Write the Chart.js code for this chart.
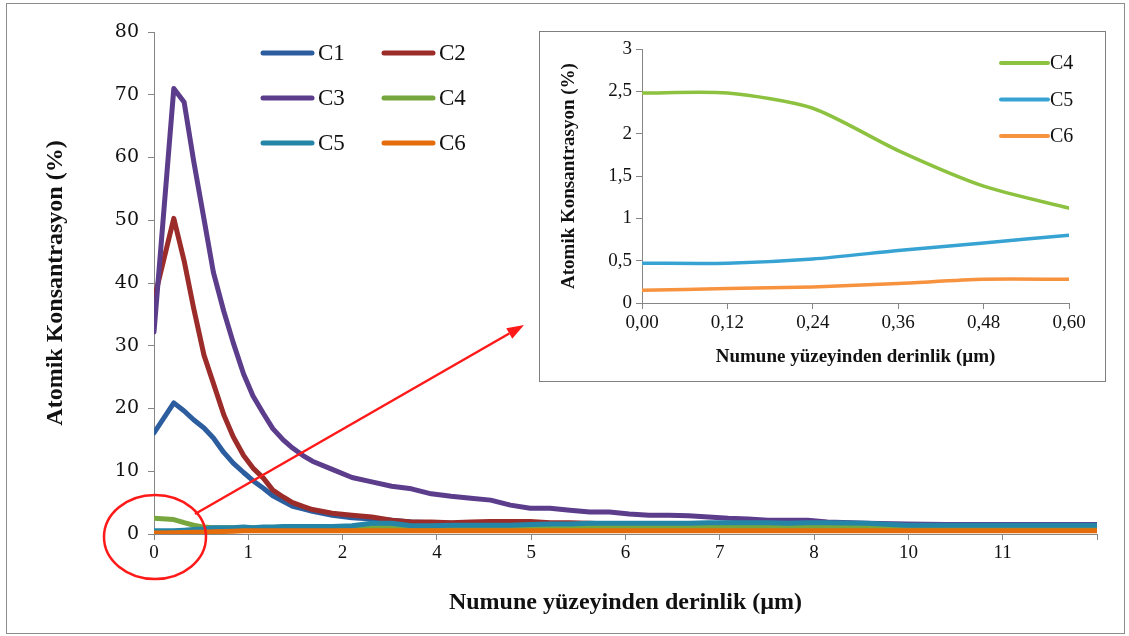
<!DOCTYPE html>
<html>
<head>
<meta charset="utf-8">
<script src="https://cdn.jsdelivr.net/npm/chart.js@4.4.1/dist/chart.umd.min.js"></script>
<style>
  html, body { margin: 0; padding: 0; background: #fff; }
  #wrap { position: relative; width: 1129px; height: 636px; }
  #frame { position: absolute; left: 6px; top: 3px; width: 1117px; height: 629px; border: 1px solid #8c8c8c; }
  #main { position: absolute; left: 0; top: 0; }
  #insetBox { position: absolute; left: 539px; top: 31px; width: 565px; height: 349px; border: 1px solid #7f7f7f; background: #fff; }
</style>
</head>
<body>
<div id="wrap">
  <div id="frame"></div>
  <canvas id="main" width="1129" height="636"></canvas>
  <div id="insetBox"><canvas id="inset" width="565" height="349"></canvas></div>
</div>
<script>
// main chart: position along the depth axis (one unit = one labelled tick)
const depthPos = [0, 0.21, 0.32, 0.42, 0.53, 0.63, 0.74, 0.84, 0.95, 1.05,
    1.16, 1.26, 1.37, 1.47, 1.58, 1.68, 1.89, 2.1, 2.31, 2.52,
    2.73, 2.94, 3.15, 3.36, 3.57, 3.78, 3.99, 4.2, 4.41, 4.62,
    4.83, 5.04, 5.25, 5.46, 5.67, 5.88, 6.09, 6.3, 6.51, 6.72,
    6.93, 7.14, 7.56, 7.98, 8.4, 8.82, 9.24, 9.66, 10.0];
const depthTickLabels = ["0", "1", "2", "4", "5", "6", "7", "8", "10", "11", ""];

const c1 = [16.1, 20.9, 19.6, 18.2, 16.9, 15.3, 13.0, 11.3, 9.8, 8.5,
    7.3, 6.1, 5.2, 4.4, 4.0, 3.6, 3.0, 2.6, 2.4, 2.2,
    1.9, 1.8, 1.7, 1.6, 1.6, 1.6, 1.5, 1.5, 1.5, 1.5,
    1.5, 1.5, 1.4, 1.4, 1.4, 1.4, 1.4, 1.4, 1.4, 1.4,
    1.4, 1.4, 1.4, 1.4, 1.4, 1.4, 1.4, 1.4, 1.4];
const c2 = [37.3, 50.3, 43.5, 36.0, 28.5, 24.0, 19.0, 15.5, 12.5, 10.5,
    8.9, 7.0, 5.9, 5.0, 4.4, 3.9, 3.3, 3.0, 2.7, 2.2,
    1.9, 1.9, 1.8, 1.9, 2.0, 2.0, 2.0, 1.8, 1.8, 1.7,
    1.6, 1.6, 1.5, 1.5, 1.6, 1.5, 1.5, 1.6, 1.5, 1.5,
    1.5, 1.6, 1.5, 1.4, 1.4, 1.4, 1.4, 1.4, 1.4];
const c3 = [32.2, 71.0, 68.8, 59.5, 50.2, 41.7, 35.5, 30.5, 25.5, 22.0,
    19.2, 16.8, 15.0, 13.7, 12.5, 11.6, 10.3, 9.0, 8.3, 7.6,
    7.2, 6.4, 6.0, 5.7, 5.4, 4.6, 4.1, 4.1, 3.8, 3.5,
    3.5, 3.2, 3.0, 3.0, 2.9, 2.7, 2.5, 2.4, 2.2, 2.2,
    2.2, 1.9, 1.7, 1.6, 1.5, 1.5, 1.5, 1.5, 1.5];
const c4 = [2.5, 2.3, 1.8, 1.4, 1.1, 1.0, 1.0, 1.0, 1.0, 1.0,
    1.0, 1.0, 1.0, 1.0, 1.0, 1.0, 1.0, 1.1, 1.1, 1.1,
    1.1, 1.1, 1.1, 1.1, 1.1, 1.1, 1.1, 1.1, 1.1, 1.1,
    1.1, 1.1, 1.1, 1.1, 1.1, 1.1, 1.1, 1.1, 1.1, 1.1,
    1.1, 1.1, 1.1, 0.8, 0.8, 0.8, 0.8, 0.8, 0.8];
const c5 = [0.5, 0.5, 0.6, 0.7, 0.8, 1.0, 1.0, 1.0, 1.1, 1.0,
    1.1, 1.1, 1.2, 1.2, 1.2, 1.2, 1.2, 1.3, 1.7, 1.7,
    1.3, 1.3, 1.4, 1.4, 1.4, 1.4, 1.5, 1.6, 1.6, 1.7,
    1.7, 1.7, 1.7, 1.7, 1.7, 1.8, 1.8, 1.8, 1.8, 1.7,
    1.8, 1.8, 1.7, 1.4, 1.4, 1.4, 1.4, 1.4, 1.4];
const c6 = [0.15, 0.19, 0.23, 0.28, 0.28, 0.35, 0.4, 0.45, 0.5, 0.5,
    0.5, 0.5, 0.5, 0.5, 0.5, 0.5, 0.5, 0.5, 0.5, 0.5,
    0.5, 0.5, 0.5, 0.5, 0.5, 0.5, 0.5, 0.5, 0.5, 0.5,
    0.5, 0.5, 0.5, 0.5, 0.5, 0.5, 0.5, 0.5, 0.5, 0.5,
    0.5, 0.5, 0.5, 0.5, 0.5, 0.5, 0.5, 0.5, 0.5];

const seriesNames = ["C1", "C2", "C3", "C4", "C5", "C6"];
const seriesColors = ["#2c5d9f", "#9b2c2a", "#5c3d8c", "#76a63d", "#2585a6", "#e46c0a"];

// inset: first 0.6 µm
const insetDepth = [0, 0.12, 0.24, 0.36, 0.48, 0.60];
const insetC4 = [2.48, 2.48, 2.30, 1.80, 1.38, 1.12];
const insetC5 = [0.47, 0.47, 0.52, 0.62, 0.71, 0.80];
const insetC6 = [0.15, 0.17, 0.19, 0.23, 0.28, 0.28];
const insetNames = ["C4", "C5", "C6"];
const insetColors = ["#8cc23f", "#37a3d3", "#f7923f"];

const axisGray = "#868686";
const textColor = "#111";

function toPoints(xs, ys) {
    return xs.map((x, i) => ({x: x, y: ys[i]}));
}

// legend in two columns, inside the plot
const mainLegend = {
    id: "mainLegend",
    afterDatasetsDraw(chart) {
        const ctx = chart.ctx;
        ctx.save();
        chart.data.datasets.forEach((ds, i) => {
            const lx = 263 + (i % 2) * 121;
            const ly = 53 + Math.floor(i / 2) * 45;
            ctx.strokeStyle = ds.borderColor;
            ctx.lineWidth = 5;
            ctx.lineCap = "round";
            ctx.beginPath();
            ctx.moveTo(lx, ly);
            ctx.lineTo(lx + 49, ly);
            ctx.stroke();
            ctx.fillStyle = textColor;
            ctx.font = "23px 'Liberation Serif'";
            ctx.textBaseline = "middle";
            ctx.fillText(ds.label, lx + 55, ly + 1);
        });
        ctx.restore();
    }
};

// red circle round the origin and arrow to the inset
const zoomMark = {
    id: "zoomMark",
    afterDraw(chart) {
        const {ctx, scales: {x, y}} = chart;
        const cx = x.getPixelForValue(0) + 1;
        const cy = y.getPixelForValue(0) + 3;
        ctx.save();
        ctx.strokeStyle = "#ff1a1a";
        ctx.fillStyle = "#ff1a1a";
        ctx.lineWidth = 2.5;
        ctx.beginPath();
        ctx.ellipse(cx, cy, 51, 42, 0, 0, Math.PI * 2);
        ctx.stroke();

        const sx = cx + 40, sy = cy - 23;
        const ex = 524, ey = 325;
        const ang = Math.atan2(ey - sy, ex - sx);
        const hl = 17, hw = 6;
        const bx = ex - hl * Math.cos(ang), by = ey - hl * Math.sin(ang);
        ctx.beginPath();
        ctx.moveTo(sx, sy);
        ctx.lineTo(bx, by);
        ctx.stroke();
        ctx.beginPath();
        ctx.moveTo(ex, ey);
        ctx.lineTo(bx + hw * Math.sin(ang), by - hw * Math.cos(ang));
        ctx.lineTo(bx - hw * Math.sin(ang), by + hw * Math.cos(ang));
        ctx.closePath();
        ctx.fill();
        ctx.restore();
    }
};

const mainSeries = [c1, c2, c3, c4, c5, c6];

new Chart(document.getElementById("main"), {
    type: "line",
    data: {
        datasets: mainSeries.map((vals, i) => ({
            label: seriesNames[i],
            data: toPoints(depthPos, vals),
            borderColor: seriesColors[i],
            backgroundColor: seriesColors[i],
            borderWidth: 5,
            pointRadius: 0,
            borderJoinStyle: "round",
            borderCapStyle: "round",
            tension: 0,
            order: 6 - i
        }))
    },
    options: {
        responsive: false,
        animation: false,
        events: [],
        layout: {padding: {top: 32, right: 32, left: 0, bottom: 0}},
        plugins: {legend: {display: false}, tooltip: {enabled: false}},
        scales: {
            x: {
                type: "linear",
                min: 0,
                max: 10,
                afterFit(scale) { scale.height = 102; },
                afterBuildTicks(scale) {
                    scale.ticks = depthTickLabels.map((t, i) => ({value: i}));
                },
                border: {color: axisGray, width: 1},
                grid: {drawOnChartArea: false, color: axisGray, tickLength: 6},
                ticks: {
                    padding: 2,
                    maxRotation: 0,
                    autoSkip: false,
                    color: textColor,
                    font: {family: "'Liberation Serif'", size: 19},
                    callback: (v) => depthTickLabels[Math.round(v)]
                },
                title: {
                    display: true,
                    text: "Numune yüzeyinden derinlik (µm)",
                    color: textColor,
                    font: {family: "'Liberation Serif'", size: 24, weight: "bold"},
                    padding: {top: 0, bottom: 19}
                }
            },
            y: {
                min: 0,
                max: 80,
                afterFit(scale) { scale.width = 154; },
                border: {color: axisGray, width: 1},
                grid: {drawOnChartArea: false, color: axisGray, tickLength: 6},
                ticks: {
                    stepSize: 10,
                    padding: 9,
                    color: textColor,
                    font: {family: "'DejaVu Serif'", size: 19}
                },
                title: {
                    display: true,
                    text: "Atomik Konsantrasyon (%)",
                    color: textColor,
                    font: {family: "'Liberation Serif'", size: 24, weight: "bold"},
                    padding: {top: 41, bottom: 0}
                }
            }
        }
    },
    plugins: [mainLegend, zoomMark]
});

const insetLegend = {
    id: "insetLegend",
    afterDatasetsDraw(chart) {
        const ctx = chart.ctx;
        ctx.save();
        chart.data.datasets.forEach((ds, i) => {
            const lx = 461, ly = 31 + i * 36.5;
            ctx.strokeStyle = ds.borderColor;
            ctx.lineWidth = 4;
            ctx.lineCap = "round";
            ctx.beginPath();
            ctx.moveTo(lx, ly);
            ctx.lineTo(lx + 47, ly);
            ctx.stroke();
            ctx.fillStyle = textColor;
            ctx.font = "20px 'Liberation Serif'";
            ctx.textBaseline = "middle";
            ctx.fillText(ds.label, lx + 49, ly + 1);
        });
        ctx.restore();
    }
};

const insetSeries = [insetC4, insetC5, insetC6];
const comma = (v, d) => v.toFixed(d).replace(".", ",");

new Chart(document.getElementById("inset"), {
    type: "line",
    data: {
        datasets: insetSeries.map((vals, i) => ({
            label: insetNames[i],
            data: toPoints(insetDepth, vals),
            borderColor: insetColors[i],
            backgroundColor: insetColors[i],
            borderWidth: 3.5,
            pointRadius: 0,
            tension: 0.25,
            borderCapStyle: "round",
            order: 3 - i
        }))
    },
    options: {
        responsive: false,
        animation: false,
        events: [],
        layout: {padding: {top: 17, right: 36, left: 0, bottom: 0}},
        plugins: {legend: {display: false}, tooltip: {enabled: false}},
        scales: {
            x: {
                type: "linear",
                min: 0,
                max: 0.6,
                afterFit(scale) { scale.height = 78; },
                afterBuildTicks(scale) {
                    scale.ticks = insetDepth.map(v => ({value: v}));
                },
                border: {color: axisGray, width: 1},
                grid: {drawOnChartArea: false, color: axisGray, tickLength: 6},
                ticks: {
                    padding: 3,
                    maxRotation: 0,
                    color: textColor,
                    font: {family: "'Liberation Serif'", size: 19},
                    callback: (v) => comma(v, 2)
                },
                title: {
                    display: true,
                    text: "Numune yüzeyinden derinlik (µm)",
                    color: textColor,
                    font: {family: "'Liberation Serif'", size: 19, weight: "bold"},
                    padding: {top: 0, bottom: 13}
                }
            },
            y: {
                min: 0,
                max: 3,
                afterFit(scale) { scale.width = 102; },
                border: {color: axisGray, width: 1},
                grid: {drawOnChartArea: false, color: axisGray, tickLength: 6},
                ticks: {
                    stepSize: 0.5,
                    padding: 4,
                    color: textColor,
                    font: {family: "'Liberation Serif'", size: 19},
                    callback: (v) => String(v).replace(".", ",")
                },
                title: {
                    display: true,
                    text: "Atomik Konsantrasyon (%)",
                    color: textColor,
                    font: {family: "'Liberation Serif'", size: 19, weight: "bold"},
                    padding: {top: 18, bottom: 0}
                }
            }
        }
    },
    plugins: [insetLegend]
});
</script>
</body>
</html>
